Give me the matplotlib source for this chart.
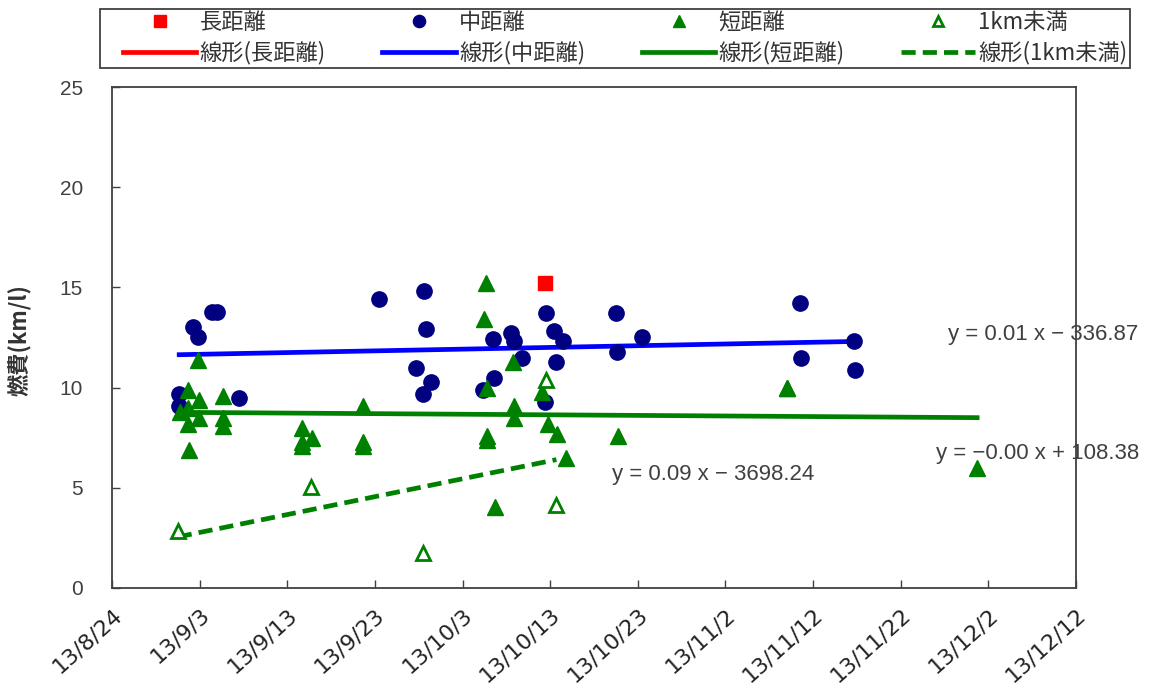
import matplotlib
matplotlib.use("Agg")
import matplotlib.pyplot as plt
import matplotlib.dates as mdates
from matplotlib.patches import Rectangle
import numpy as np
import pandas as pd

plt.rcParams['font.family'] = ['Noto Sans CJK JP', 'DejaVu Sans']

# data (date, km/l)
long_dates = ["2013-10-12 10:00"]
long_vals = [15.2]

mid_dates = ["2013-08-31 16:00", "2013-08-31 16:00", "2013-09-02 06:00", "2013-09-02 20:00",
             "2013-09-04 10:00", "2013-09-05 00:00", "2013-09-07 12:00", "2013-09-23 12:00",
             "2013-09-28 14:00", "2013-09-28 20:00", "2013-09-27 17:00", "2013-09-29 10:00",
             "2013-09-28 12:00", "2013-10-06 12:00", "2013-10-08 13:00", "2013-10-08 22:00",
             "2013-10-09 19:00", "2013-10-06 14:00", "2013-10-05 08:00", "2013-10-12 12:00",
             "2013-10-13 11:00", "2013-10-14 12:00", "2013-10-13 17:00", "2013-10-12 10:00",
             "2013-10-20 12:00", "2013-10-20 14:00", "2013-10-23 12:00", "2013-11-10 12:00",
             "2013-11-10 16:00", "2013-11-16 17:00", "2013-11-16 19:00"]
mid_vals = [9.7, 9.1, 13.0, 12.5,
            13.75, 13.75, 9.5, 14.4,
            14.8, 12.9, 11.0, 10.3,
            9.7, 12.4, 12.7, 12.3,
            11.5, 10.5, 9.9, 13.7,
            12.8, 12.3, 11.3, 9.3,
            13.7, 11.8, 12.5, 14.2,
            11.5, 12.3, 10.9]

# the 11/9 point is listed twice: two trips on top of each other
short_dates = ["2013-09-02 20:00", "2013-09-01 16:00", "2013-09-02 22:00", "2013-09-05 16:00",
               "2013-08-31 18:00", "2013-09-01 16:00", "2013-09-02 22:00", "2013-09-01 16:00",
               "2013-09-05 16:00", "2013-09-05 16:00", "2013-09-01 19:00", "2013-09-21 16:00",
               "2013-09-21 16:00", "2013-09-21 16:00", "2013-09-14 17:00", "2013-09-15 19:00",
               "2013-09-14 17:00", "2013-09-14 17:00", "2013-10-05 17:00", "2013-10-05 12:00",
               "2013-10-05 19:00", "2013-10-05 19:00", "2013-10-05 19:00", "2013-10-06 17:00",
               "2013-10-08 19:00", "2013-10-08 22:00", "2013-10-08 22:00", "2013-10-12 02:00",
               "2013-10-12 19:00", "2013-10-13 19:00", "2013-10-14 19:00", "2013-10-20 19:00",
               "2013-11-09 01:00", "2013-11-09 01:00", "2013-11-30 17:00"]
short_vals = [11.4, 9.9, 9.4, 9.6,
              8.8, 9.0, 8.5, 8.2,
              8.5, 8.1, 6.9, 9.1,
              7.1, 7.3, 8.0, 7.5,
              7.3, 7.1, 15.2, 13.4,
              10.0, 7.6, 7.4, 4.05,
              11.3, 9.1, 8.5, 9.8,
              8.2, 7.7, 6.5, 7.6,
              10.0, 10.0, 6.0]

under1_dates = ["2013-08-31 12:00", "2013-09-15 17:00", "2013-09-28 12:00",
                "2013-10-12 12:00", "2013-10-13 17:00"]
under1_vals = [2.85, 5.05, 1.75, 10.4, 4.15]

eq_mid = "y = 0.01 x − 336.87"
eq_short = "y = −0.00 x + 108.38"
eq_under1 = "y = 0.09 x − 3698.24"


def to_num(dates):
    return mdates.date2num(pd.to_datetime(dates).to_pydatetime())


def trend(dates, vals):
    x = to_num(dates)
    k, b = np.polyfit(x, vals, 1)
    xs = np.array([x.min(), x.max()])
    return xs, k * xs + b


fig = plt.figure(figsize=(11.5, 6.84), dpi=100)
ax = fig.add_axes([0.0974, 0.1404, 0.8383, 0.7324])

# trend lines under the markers
red_line, = ax.plot([], [], color='#ff0000', lw=3.4)
xs, ys = trend(mid_dates, mid_vals)
blue_line, = ax.plot(xs, ys, color='#0000ff', lw=3.4, zorder=2)
xs, ys = trend(short_dates, short_vals)
green_line, = ax.plot(xs, ys, color='#008000', lw=3.4, zorder=2)
xs, ys = trend(under1_dates, under1_vals)
dash_line, = ax.plot(xs, ys, color='#008000', lw=3.4, ls=(0, (3, 1.5)), zorder=2)

sq, = ax.plot(to_num(long_dates), long_vals, ls='none', marker='s', ms=10, color='#ff0000', zorder=3)
ci, = ax.plot(to_num(mid_dates), mid_vals, ls='none', marker='o', ms=11, color='#000080', zorder=3)
tr, = ax.plot(to_num(short_dates), short_vals, ls='none', marker='^', ms=11, color='#008000', zorder=4)
op, = ax.plot(to_num(under1_dates), under1_vals, ls='none', marker='^', ms=9.5, mfc='white',
              mec='#008000', mew=2, color='#008000', zorder=4)

ax.set_xlim(mdates.date2num(pd.Timestamp("2013-08-24")), mdates.date2num(pd.Timestamp("2013-12-12")))
ax.set_ylim(0, 25)
ticks = pd.date_range("2013-08-24", "2013-12-12", freq="10D")
ax.set_xticks(mdates.date2num(ticks.to_pydatetime()))
ax.set_xticklabels([f"{d.year % 100}/{d.month}/{d.day}" for d in ticks], rotation=42,
                   ha='right', va='top', rotation_mode='anchor', fontsize=16,
                   color='#222222', family=['DejaVu Sans'])
ax.set_yticks([0, 5, 10, 15, 20, 25])
ax.set_yticklabels(['0', '5', '10', '15', '20', '25'], fontsize=15, color='#404040',
                   family=['Liberation Sans', 'DejaVu Sans'])
ax.tick_params(direction='in', length=6, width=1, color='#404040')
ax.tick_params(axis='x', pad=12)
ax.tick_params(axis='y', pad=21)
for s in ax.spines.values():
    s.set_linewidth(1.3)
    s.set_color('#404040')

ax.set_ylabel("燃費(km/l)", fontsize=16, fontweight='bold', color='#333333')
ax.yaxis.set_label_coords(-0.083, 0.495)

txt = dict(fontsize=16, color='#404040', family=['Liberation Sans', 'DejaVu Sans'],
           va='center', clip_on=False)
ax.text(mdates.date2num(pd.Timestamp("2013-11-27 10:00")), 12.65, eq_mid, **txt)
ax.text(mdates.date2num(pd.Timestamp("2013-11-26 00:00")), 6.7, eq_short, **txt)
ax.text(mdates.date2num(pd.Timestamp("2013-10-20 02:00")), 5.65, eq_under1, **txt)

# legend fills column by column, so interleave to get the two rows
handles = [sq, red_line, ci, blue_line, tr, green_line, op, dash_line]
labels = ["長距離", "線形(長距離)", "中距離", "線形(中距離)",
          "短距離", "線形(短距離)", "1km未満", "線形(1km未満)"]
leg = fig.legend(handles, labels, ncol=4, loc='upper left',
                 bbox_to_anchor=(0.105, 0.9, 0.877, 0.087), mode='expand',
                 fontsize=16, frameon=False,
                 handlelength=3.3, handletextpad=0.15, borderpad=0.1,
                 labelspacing=0.3, borderaxespad=0, numpoints=1, markerscale=0.8)
for t in leg.get_texts():
    t.set_color('#333333')
# the box round the legend is wider than its entries
fig.patches.append(Rectangle((0.087, 0.9), 0.896, 0.087, transform=fig.transFigure,
                             fill=False, edgecolor='#404040', lw=1.3))

fig.savefig("out.png", dpi=100)
